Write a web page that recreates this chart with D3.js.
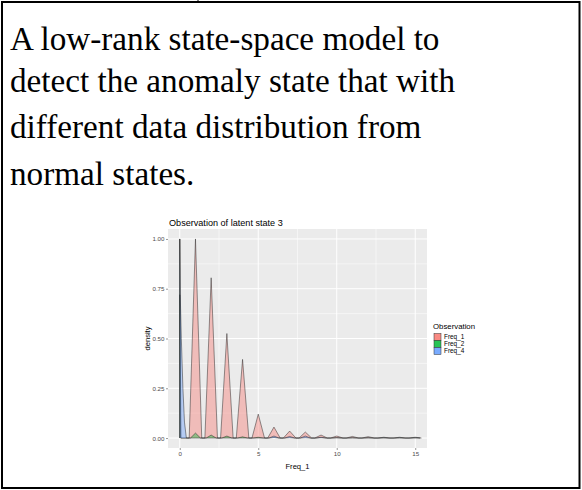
<!DOCTYPE html>
<html>
<head>
<meta charset="utf-8">
<script src="https://cdn.jsdelivr.net/npm/d3@7"></script>
<style>
  body { margin: 0; background: #fff; }
  svg { display: block; }
</style>
</head>
<body>
<svg id="app" width="582" height="490"></svg>
<script>
// text of the slide
const slideLines = [
  'A low-rank state-space model to',
  'detect the anomaly state that with',
  'different data distribution from',
  'normal states.'
]

// chart labels
const chartTitle = 'Observation of latent state 3'
const xTitle = 'Freq_1'
const yTitle = 'density'
const legendTitle = 'Observation'
const seriesNames = ['Freq_1', 'Freq_2', 'Freq_4']
const seriesColors = ['#F8766D', '#00BA38', '#619CFF']

const xTicks = [0, 5, 10, 15]
const yTicks = [0, 0.25, 0.5, 0.75, 1]
const yTickLabels = ['0.00', '0.25', '0.50', '0.75', '1.00']

// peak heights of the density at each count 0..15
const counts = [0, 1, 2, 3, 4, 5, 6, 7, 8, 9, 10, 11, 12, 13, 14, 15]
const freq1Peaks = [0.72, 1.0, 0.805, 0.525, 0.395, 0.12, 0.055, 0.035, 0.03, 0.015, 0.01, 0.008, 0.007, 0.004, 0.004, 0.004]
const freq2Peaks = [1.0, 0.025, 0.015, 0.01, 0.006, 0.004, 0.003, 0.002, 0.002, 0.002, 0.001, 0.001, 0.001, 0.001, 0.001, 0.001]
const freq4Peaks = [0, 0, 0, 0, 0, 0, 0.01, 0.008, 0.01, 0.004, 0.002, 0.001, 0.001, 0.001, 0.001, 0.001]
// the wide blue shoulder just right of zero
const freq4HeadX = [0, 0.03, 0.1, 0.2, 0.3, 0.42]
const freq4HeadY = [1.0, 0.72, 0.5, 0.25, 0.08, 0]

const svg = d3.select('#app')

// frame
svg.append('rect')
  .attr('x', 2).attr('y', 2)
  .attr('width', 577.5).attr('height', 486)
  .attr('fill', 'none')
  .attr('stroke', '#000')
  .attr('stroke-width', 2)
svg.append('line')
  .attr('x1', 198).attr('x2', 198)
  .attr('y1', 0).attr('y2', 3)
  .attr('stroke', '#000')

svg.append('g')
  .selectAll('text')
  .data(slideLines)
  .join('text')
  .attr('x', 10)
  .attr('y', (d, i) => [50, 92, 138, 185][i])
  .attr('font-family', '"Liberation Serif", "Times New Roman", serif')
  .attr('font-size', 33.2)
  .attr('fill', '#000')
  .text(d => d)

// ---- chart ----
const panel = { left: 168, right: 427, top: 229, bottom: 448 }

const x = d3.scaleLinear().domain([-0.75, 15.75]).range([panel.left, panel.right])
const y = d3.scaleLinear().domain([-0.05, 1.05]).range([panel.bottom, panel.top])

const sans = '"Liberation Sans", Arial, sans-serif'

svg.append('text')
  .attr('x', panel.left + 1)
  .attr('y', 226)
  .attr('font-family', sans)
  .attr('font-size', 9.1)
  .attr('fill', '#000')
  .text(chartTitle)

svg.append('rect')
  .attr('x', panel.left).attr('y', panel.top)
  .attr('width', panel.right - panel.left)
  .attr('height', panel.bottom - panel.top)
  .attr('fill', '#EBEBEB')

// grid
const grid = svg.append('g')
const xMinor = [2.5, 7.5, 12.5]
const yMinor = [0.125, 0.375, 0.625, 0.875]
grid.selectAll('.xminor').data(xMinor).join('line')
  .attr('x1', d => x(d)).attr('x2', d => x(d))
  .attr('y1', panel.top).attr('y2', panel.bottom)
  .attr('stroke', '#fff').attr('stroke-width', 0.5)
grid.selectAll('.yminor').data(yMinor).join('line')
  .attr('y1', d => y(d)).attr('y2', d => y(d))
  .attr('x1', panel.left).attr('x2', panel.right)
  .attr('stroke', '#fff').attr('stroke-width', 0.5)
grid.selectAll('.xmajor').data(xTicks).join('line')
  .attr('x1', d => x(d)).attr('x2', d => x(d))
  .attr('y1', panel.top).attr('y2', panel.bottom)
  .attr('stroke', '#fff').attr('stroke-width', 1)
grid.selectAll('.ymajor').data(yTicks).join('line')
  .attr('y1', d => y(d)).attr('y2', d => y(d))
  .attr('x1', panel.left).attr('x2', panel.right)
  .attr('stroke', '#fff').attr('stroke-width', 1)

// densities: one spike per count, straight-sided
function spikePoints(peaks, halfWidth, zeroWidth) {
  const pts = []
  counts.forEach((k, i) => {
    const h = peaks[i]
    if (k === 0) {
      pts.push([0, 0], [0, h], [zeroWidth, 0])
    } else {
      pts.push([k - halfWidth, 0], [k, h], [k + halfWidth, 0])
    }
  })
  return pts
}

const freq1Pts = spikePoints(freq1Peaks, 0.4, 0.08)
const freq2Pts = spikePoints(freq2Peaks, 0.32, 0.05)
const freq4Pts = spikePoints(freq4Peaks, 0.32, 0.05)
  .filter(p => p[0] > 0.5)
freq4Pts.unshift([0, 0], ...freq4HeadX.map((v, i) => [v, freq4HeadY[i]]))

const allPts = [freq1Pts, freq2Pts, freq4Pts]

const area = d3.area()
  .x(d => x(d[0]))
  .y0(y(0))
  .y1(d => y(d[1]))
const line = d3.line()
  .x(d => x(d[0]))
  .y(d => y(d[1]))

const dens = svg.append('g')
allPts.forEach((pts, i) => {
  dens.append('path')
    .attr('d', area(pts))
    .attr('fill', seriesColors[i])
    .attr('fill-opacity', 0.4)
  dens.append('path')
    .attr('d', line(pts))
    .attr('fill', 'none')
    .attr('stroke', '#222')
    .attr('stroke-opacity', 0.8)
    .attr('stroke-width', 0.6)
})

// axes
const xAxis = d3.axisBottom(x).tickValues(xTicks).tickSize(2).tickPadding(2)
const yAxis = d3.axisLeft(y).tickValues(yTicks).tickSize(2).tickPadding(1.5)
  .tickFormat((d, i) => yTickLabels[i])

const gx = svg.append('g')
  .attr('transform', `translate(0,${panel.bottom})`)
  .call(xAxis)
const gy = svg.append('g')
  .attr('transform', `translate(${panel.left},0)`)
  .call(yAxis)
;[gx, gy].forEach(g => {
  g.select('.domain').remove()
  g.selectAll('line').attr('stroke', '#333').attr('stroke-width', 0.5)
  g.selectAll('text')
    .attr('font-family', sans)
    .attr('font-size', 6.2)
    .attr('fill', '#4D4D4D')
})

svg.append('text')
  .attr('x', (panel.left + panel.right) / 2)
  .attr('y', 469)
  .attr('text-anchor', 'middle')
  .attr('font-family', sans)
  .attr('font-size', 7.6)
  .text(xTitle)

svg.append('text')
  .attr('transform', `translate(150,${(panel.top + panel.bottom) / 2}) rotate(-90)`)
  .attr('text-anchor', 'middle')
  .attr('font-family', sans)
  .attr('font-size', 7.6)
  .text(yTitle)

// legend
const legend = svg.append('g').attr('transform', 'translate(433,0)')
legend.append('text')
  .attr('x', 0).attr('y', 329)
  .attr('font-family', sans)
  .attr('font-size', 7.8)
  .text(legendTitle)
const keys = legend.selectAll('.key').data(seriesNames).join('g')
  .attr('transform', (d, i) => `translate(0,${333.5 + i * 7})`)
keys.append('rect')
  .attr('x', 1).attr('y', 0)
  .attr('width', 7).attr('height', 7)
  .attr('fill', (d, i) => seriesColors[i])
  .attr('fill-opacity', 0.85)
  .attr('stroke', '#333')
  .attr('stroke-width', 0.5)
keys.append('text')
  .attr('x', 11).attr('y', 5.8)
  .attr('font-family', sans)
  .attr('font-size', 6.4)
  .text(d => d)
</script>
</body>
</html>
